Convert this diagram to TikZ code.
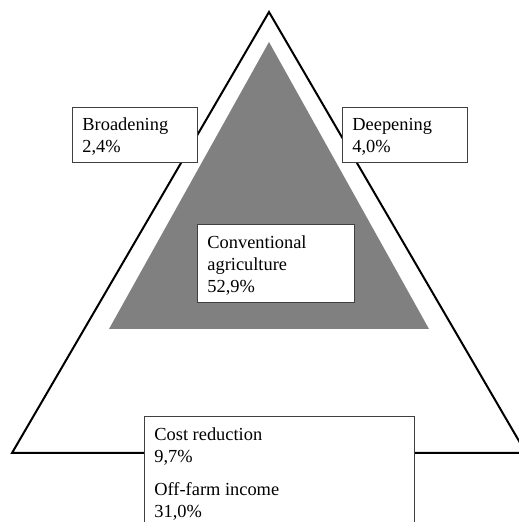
\documentclass[tikz,border=0pt]{standalone}
\usepackage{fontspec}
\setmainfont{Liberation Serif}
\setlength{\parindent}{0pt}
\begin{document}
\begin{tikzpicture}[x=1pt,y=1pt,
  lbl/.style={draw=black!75, line width=0.8pt, fill=white,
    font=\fontsize{18.4}{22}\selectfont, inner xsep=10pt, inner ysep=12pt,
    text height=12pt, anchor=north west},
  outertri/.style={draw=black, line width=2pt, line join=miter},
  innertri/.style={fill=black!50, draw=none}]
\useasboundingbox (0,0) rectangle (519,522);
\clip (0,0) rectangle (519,522);
\coordinate (oa) at (269,510);
\coordinate (ol) at (12,69);
\coordinate (or) at (526,69);
\coordinate (ia) at (269,480);
\coordinate (il) at (109,193);
\coordinate (ir) at (429,193);
\draw[outertri] (oa) -- (ol) -- (or) -- cycle;
\fill[innertri] (ia) -- (il) -- (ir) -- cycle;
\node[lbl, inner ysep=11pt, text depth=21pt] (broad) at (72,415)
  {\parbox[t]{105pt}{Broadening\\2,4\%}};
\node[lbl, inner ysep=11pt, text depth=21pt] (deep) at (342,415)
  {\parbox[t]{105pt}{Deepening\\4,0\%}};
\node[lbl, text depth=42pt] (conv) at (197,298)
  {\parbox[t]{137pt}{Conventional\\agriculture\\52,9\%}};
\node[lbl, text depth=120pt] (cost) at (144,106)
  {\parbox[t]{250pt}{Cost reduction\\9,7\%\\[11pt]Off-farm income\\31,0\%}};
\end{tikzpicture}
\end{document}
